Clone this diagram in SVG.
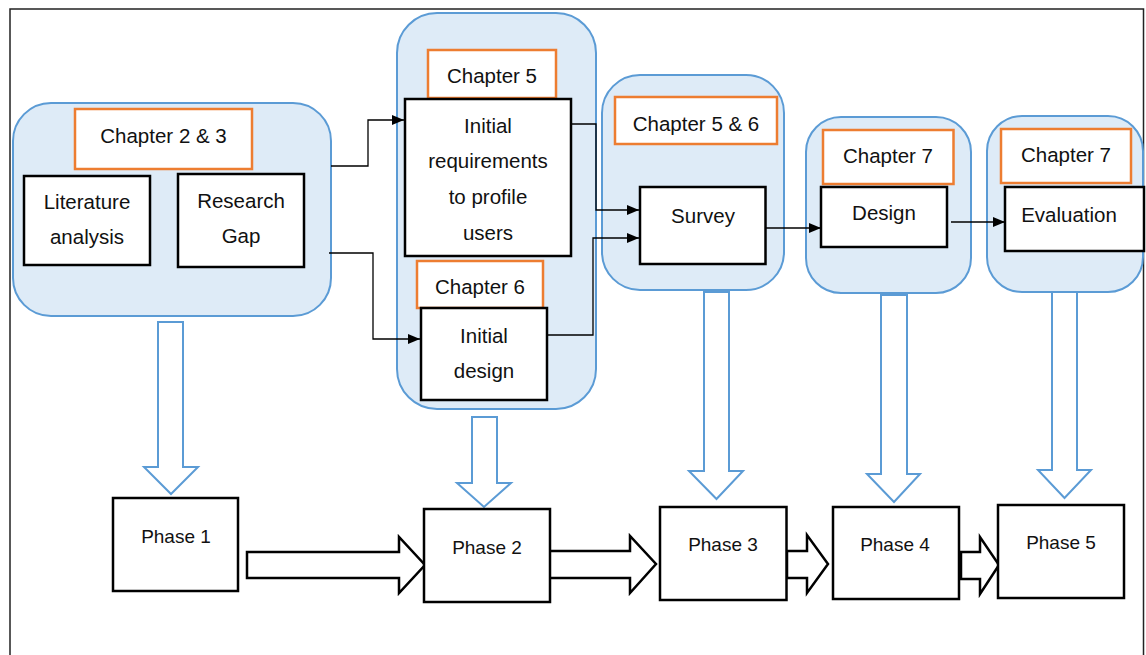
<svg xmlns="http://www.w3.org/2000/svg" width="1146" height="655" viewBox="0 0 1146 655">
<style>
.grp{fill:#DEEBF7;stroke:#5B9BD5;stroke-width:2}
.ch{fill:#fff;stroke:#ED7D31;stroke-width:2.5}
.box{fill:#fff;stroke:#000;stroke-width:2.5}
.t{font-family:"Liberation Sans",Arial,sans-serif;font-size:20.5px;fill:#111;text-anchor:middle}
.p{font-size:19px}
.con{fill:none;stroke:#000;stroke-width:1.3}
.barr{fill:#fff;stroke:#5B9BD5;stroke-width:2;stroke-linejoin:miter}
.karr{fill:#fff;stroke:#000;stroke-width:2.5;stroke-linejoin:miter}
</style>
<defs>
<marker id="ah" markerWidth="12" markerHeight="10" refX="12" refY="5" orient="auto" markerUnits="userSpaceOnUse">
<path d="M0,0 L12,5 L0,10 z" fill="#000"/>
</marker>
</defs>
<rect x="0" y="0" width="1146" height="655" fill="#fff"/>
<rect x="10" y="9" width="1133.5" height="660" fill="none" stroke="#222" stroke-width="1.5"/>

<g id="ch23-group">
<rect class="grp" x="13" y="103" width="318" height="213" rx="38"/>
<rect class="ch" x="75" y="109" width="177" height="60"/>
<text class="t" x="163.5" y="143">Chapter 2 &amp; 3</text>
<rect class="box" x="24" y="176" width="126" height="89"/>
<text class="t" x="87" y="209">Literature</text>
<text class="t" x="87" y="244">analysis</text>
<rect class="box" x="178" y="174" width="126" height="93"/>
<text class="t" x="241" y="208">Research</text>
<text class="t" x="241" y="243">Gap</text>
</g>

<g id="ch56-group">
<rect class="grp" x="397" y="13" width="199" height="396" rx="40"/>
<rect class="ch" x="428" y="50" width="128" height="48"/>
<text class="t" x="492" y="83">Chapter 5</text>
<rect class="box" x="405" y="99" width="166" height="157"/>
<text class="t" x="488" y="133">Initial</text>
<text class="t" x="488" y="168">requirements</text>
<text class="t" x="488" y="204">to profile</text>
<text class="t" x="488" y="240">users</text>
<rect class="ch" x="417" y="261" width="126" height="47"/>
<text class="t" x="480" y="294">Chapter 6</text>
<rect class="box" x="421" y="308" width="126" height="92"/>
<text class="t" x="484" y="343">Initial</text>
<text class="t" x="484" y="378">design</text>
</g>

<g id="survey-group">
<rect class="grp" x="602" y="75" width="182" height="215" rx="38"/>
<rect class="ch" x="615" y="97" width="162" height="47"/>
<text class="t" x="696" y="131">Chapter 5 &amp; 6</text>
<rect class="box" x="640" y="187" width="125.5" height="77"/>
<text class="t" x="703" y="223">Survey</text>
</g>

<g id="design-group">
<rect class="grp" x="806" y="117" width="165" height="176" rx="35"/>
<rect class="ch" x="823" y="130" width="130.5" height="54"/>
<text class="t" x="888" y="163">Chapter 7</text>
<rect class="box" x="821" y="187" width="126" height="60"/>
<text class="t" x="884" y="220">Design</text>
</g>

<g id="evaluation-group">
<rect class="grp" x="987" y="116" width="156" height="176" rx="35"/>
<rect class="ch" x="1001" y="129" width="130" height="54"/>
<text class="t" x="1066" y="162">Chapter 7</text>
<rect class="box" x="1005" y="187" width="139" height="64"/>
<text class="t" x="1069" y="222">Evaluation</text>
</g>

<g id="connectors">
<polyline class="con" points="331,166 368,166 368,120 404,120" marker-end="url(#ah)"/>
<polyline class="con" points="329,253 373,253 373,339 420,339" marker-end="url(#ah)"/>
<polyline class="con" points="571,124 596,124 596,210 639,210" marker-end="url(#ah)"/>
<polyline class="con" points="547,335 593,335 593,238 639,238" marker-end="url(#ah)"/>
<polyline class="con" points="765,228 821,228" marker-end="url(#ah)"/>
<polyline class="con" points="951,222 1005,222" marker-end="url(#ah)"/>
<polygon class="barr" points="158,322 183,322 183,467 198,467 171,494 144,467 158,467"/>
<polygon class="barr" points="472,417 497,417 497,483 511,483 484,507 457,483 472,483"/>
<polygon class="barr" points="704,292 729,292 729,471 743,471 716.5,499 689,471 704,471"/>
<polygon class="barr" points="881,295 907,295 907,474 920,474 894,502 867,474 881,474"/>
<polygon class="barr" points="1052,292 1077,292 1077,470 1091,470 1064.5,498 1038,470 1052,470"/>
<polygon class="karr" points="247,552 399,552 399,537 425,565 399,593 399,578 247,578"/>
<polygon class="karr" points="549,551 630,551 630,536 656,564 630,593 630,578 549,578"/>
<polygon class="karr" points="787,551 807,551 807,535 828,564 807,593 807,578 787,578"/>
<polygon class="karr" points="961,552 980,552 980,537 999,565 980,594 980,579 961,579"/>
</g>

<g id="phase1">
<rect class="box" x="113" y="498" width="125" height="93"/>
<text class="t p" x="176" y="543">Phase 1</text>
</g>
<g id="phase2">
<rect class="box" x="424" y="509" width="126" height="93"/>
<text class="t p" x="487" y="554">Phase 2</text>
</g>
<g id="phase3">
<rect class="box" x="660" y="507" width="126.5" height="93"/>
<text class="t p" x="723" y="551">Phase 3</text>
</g>
<g id="phase4">
<rect class="box" x="833" y="507" width="126" height="92"/>
<text class="t p" x="895" y="551">Phase 4</text>
</g>
<g id="phase5">
<rect class="box" x="998" y="505" width="126" height="93"/>
<text class="t p" x="1061" y="549">Phase 5</text>
</g>
</svg>
